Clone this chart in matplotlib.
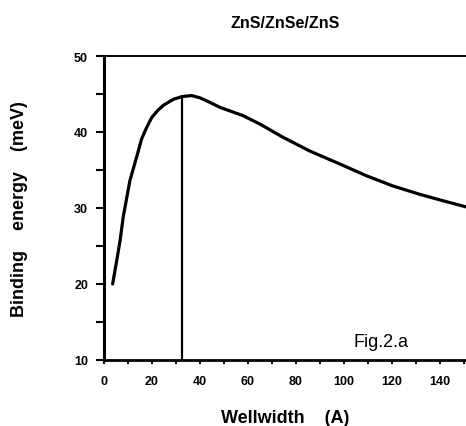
import numpy as np
import matplotlib
matplotlib.use('Agg')
import matplotlib.pyplot as plt
from matplotlib.pyplot import MultipleLocator

# binding energy vs well width
wellwidth = [3.6, 5.2, 6.7, 8.0, 10.8, 13.6, 15.7, 17.8, 19.9, 22.3, 24.7, 28.9, 32.4, 36.5, 40.0,
             44.2, 48.3, 58.0, 65.0, 74.7, 85.8, 98.3, 109.4, 120.5, 131.7, 141.4, 151.0]
energy = [20.0, 22.9, 25.7, 28.8, 33.6, 36.7, 39.1, 40.6, 41.9, 42.8, 43.5, 44.3, 44.65, 44.8, 44.5,
          43.9, 43.25, 42.15, 41.05, 39.3, 37.5, 35.8, 34.25, 32.9, 31.8, 30.95, 30.15]
peak_x = 32.4
peak_y = 44.65

xticks = [0, 20, 40, 60, 80, 100, 120, 140]
yticks = [10, 20, 30, 40, 50]

plt.rcParams['font.family'] = ['Liberation Sans', 'DejaVu Sans']

fig = plt.figure(figsize=(4.66, 4.27), dpi=100)
ax = fig.add_axes([0.2232, 0.1546, 0.7768, 0.7119])

ax.plot(wellwidth, energy, color='black', linewidth=2.3, solid_joinstyle='round', solid_capstyle='round')
ax.vlines(peak_x, 10, peak_y, color='black', linewidth=1.6)

ax.set_xlim(0, 151)
ax.set_ylim(10, 50)
ax.set_xticks(xticks)
ax.set_yticks(yticks)
ax.xaxis.set_minor_locator(MultipleLocator(10))
ax.yaxis.set_minor_locator(MultipleLocator(5))
ax.tick_params(axis='x', which='both', direction='out', width=1.5, length=3,
               labelsize=9, pad=8)
ax.tick_params(axis='y', which='both', direction='out', width=1.5, length=6,
               labelsize=9, pad=5.5)
for lab in ax.get_xticklabels() + ax.get_yticklabels():
    lab.set_fontweight('bold')

ax.spines['right'].set_visible(False)
ax.spines['left'].set_linewidth(2.2)
ax.spines['bottom'].set_linewidth(2.0)
ax.spines['top'].set_linewidth(1.4)

ax.set_xlabel('Wellwidth    (A)', fontsize=13, fontweight='bold', labelpad=16)
ax.set_ylabel('Binding    energy    (meV)', fontsize=13, fontweight='bold', labelpad=33)
fig.text(0.612, 0.946, 'ZnS/ZnSe/ZnS', fontsize=11.5, fontweight='bold', ha='center', va='center')
ax.text(115.6, 12.4, 'Fig.2.a', fontsize=13, ha='center', va='center')

plt.savefig('out.png', dpi=100)
